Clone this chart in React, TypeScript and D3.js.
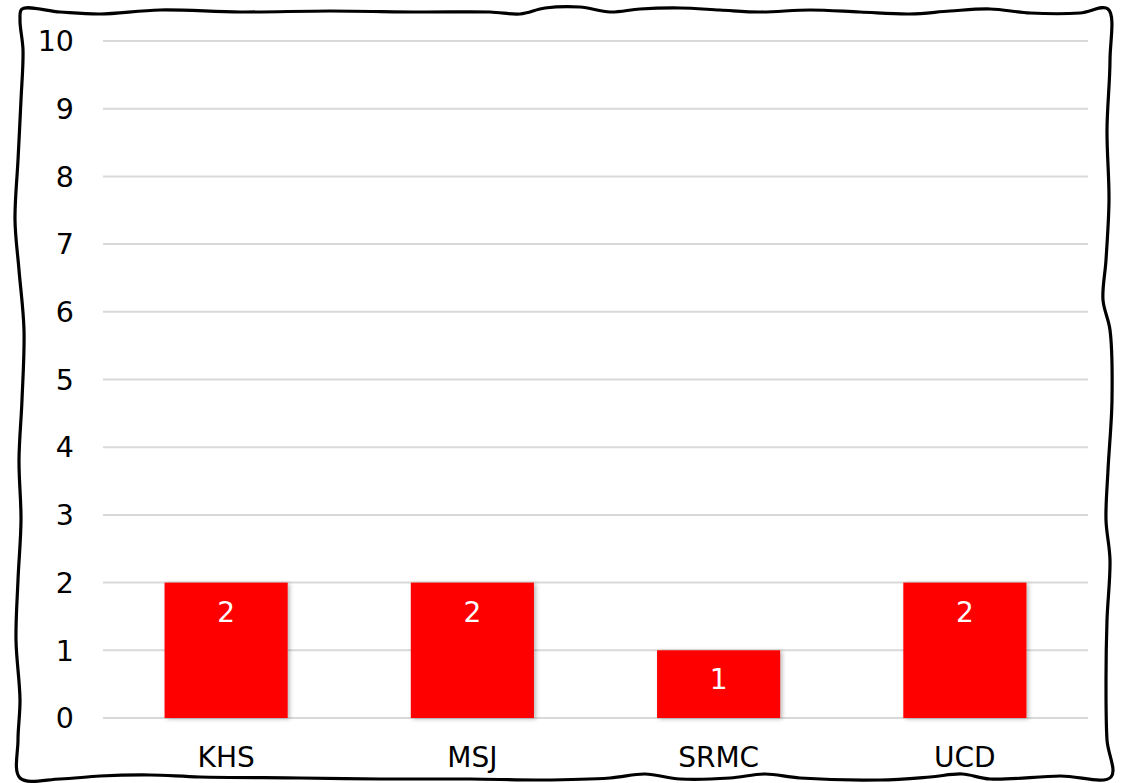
import React from "react";
import * as d3 from "d3";

const categories = ["KHS", "MSJ", "SRMC", "UCD"];
const values = [2, 2, 1, 2];
const yTicks = [0, 1, 2, 3, 4, 5, 6, 7, 8, 9, 10];

const W = 1124;
const H = 783;
const PLOT = { left: 103, right: 1088, top: 41, bottom: 718 };
const FONT = "'DejaVu Sans', Verdana, sans-serif";

// hand-drawn frame outline (decoration)
const frameTop: [number, number][] = [
  [22, 9], [60, 12], [100, 14], [160, 10], [240, 12], [330, 11], [420, 12], [490, 12],
  [520, 14], [545, 8], [580, 7], [610, 12], [640, 9], [680, 8], [720, 10], [760, 12],
  [810, 10], [860, 12], [910, 14], [950, 11], [990, 9], [1030, 13], [1080, 13], [1108, 9],
];
const frameRight: [number, number][] = [
  [1110, 60], [1107, 130], [1109, 200], [1106, 260], [1103, 300], [1110, 330], [1112, 400],
  [1108, 470], [1106, 520], [1110, 560], [1107, 620], [1106, 680], [1107, 740], [1111, 777],
];
const frameBottom: [number, number][] = [
  [1060, 776], [990, 779], [962, 774], [930, 777], [880, 780], [800, 778], [765, 774],
  [730, 778], [680, 779], [645, 774], [610, 778], [540, 780], [470, 779], [380, 779],
  [300, 778], [200, 777], [150, 775], [100, 776], [60, 779],
];
const frameLeft: [number, number][] = [
  [20, 778], [18, 740], [20, 700], [16, 640], [18, 580], [21, 520], [19, 460], [22, 400],
  [24, 330], [19, 270], [15, 220], [18, 160], [21, 100], [23, 50], [20, 20],
];

export default function App() {
  const x = d3
    .scaleBand<string>()
    .domain(categories)
    .range([PLOT.left, PLOT.right])
    .paddingInner(0.5)
    .paddingOuter(0.25);
  const y = d3.scaleLinear().domain([0, 10]).range([PLOT.bottom, PLOT.top]);

  const framePts = [...frameTop, ...frameRight, ...frameBottom, ...frameLeft];
  const framePath = d3.line().curve(d3.curveCatmullRomClosed.alpha(0.5))(framePts) || "";

  return (
    <svg
      width={W}
      height={H}
      style={{ position: "absolute", left: 0, top: 0, background: "#fff" }}
    >
      <defs>
        <filter id="barShadow" x="-20%" y="-20%" width="140%" height="140%">
          <feDropShadow dx="2" dy="1" stdDeviation="2" floodColor="#000" floodOpacity="0.28" />
        </filter>
      </defs>
      <rect x={0} y={0} width={W} height={H} fill="#fff" />
      {yTicks.map((t) => (
        <g key={t}>
          <line
            x1={PLOT.left}
            x2={PLOT.right}
            y1={y(t)}
            y2={y(t)}
            stroke="#d9d9d9"
            strokeWidth={2}
          />
          <text
            x={74}
            y={y(t)}
            dy="0.36em"
            textAnchor="end"
            fontFamily={FONT}
            fontSize={28.5}
            fill="#000"
          >
            {t}
          </text>
        </g>
      ))}
      {categories.map((c, i) => (
        <g key={c}>
          <rect
            x={x(c)!}
            y={y(values[i])}
            width={x.bandwidth()}
            height={y(0) - y(values[i])}
            fill="#ff0000"
            filter="url(#barShadow)"
          />
          <text
            x={x(c)! + x.bandwidth() / 2}
            y={y(values[i]) + 39}
            textAnchor="middle"
            fontFamily={FONT}
            fontSize={28}
            fill="#fff"
          >
            {values[i]}
          </text>
          <text
            x={x(c)! + x.bandwidth() / 2}
            y={767}
            textAnchor="middle"
            fontFamily={FONT}
            fontSize={28}
            fill="#000"
          >
            {c}
          </text>
        </g>
      ))}
      <path d={framePath} fill="none" stroke="#000" strokeWidth={3.2} strokeLinejoin="round" />
    </svg>
  );
}
